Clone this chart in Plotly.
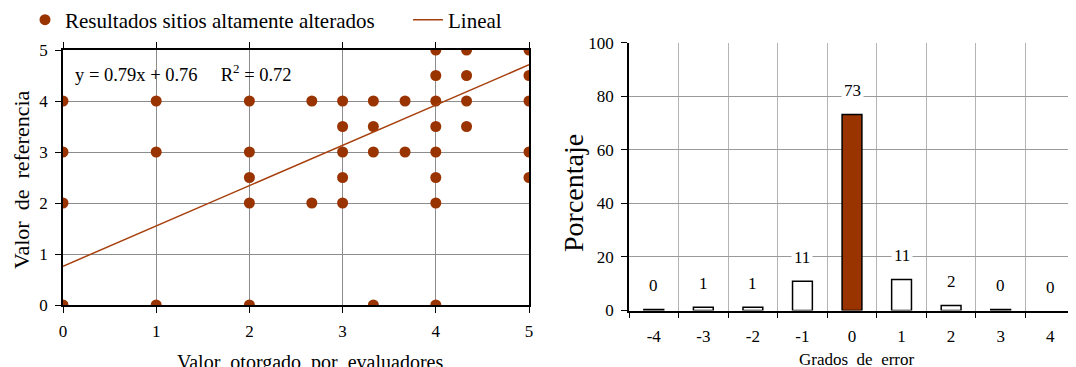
import plotly.graph_objects as go

# ---- Left scatter data ----
scatter_x = [0, 0, 0, 0,
             1, 1, 1,
             2, 2, 2, 2, 2,
             2.67, 2.67,
             3, 3, 3, 3, 3,
             3.33, 3.33, 3.33, 3.33,
             3.67, 3.67,
             4, 4, 4, 4, 4, 4, 4, 4,
             4.33, 4.33, 4.33, 4.33,
             5, 5, 5, 5, 5]
scatter_y = [4, 3, 2, 0,
             4, 3, 0,
             4, 3, 2.5, 2, 0,
             4, 2,
             4, 3.5, 3, 2.5, 2,
             4, 3.5, 3, 0,
             4, 3,
             5, 4.5, 4, 3.5, 3, 2.5, 2, 0,
             5, 4.5, 4, 3.5,
             5, 4.5, 4, 3, 2.5]
slope = 0.79
intercept = 0.76
r2 = 0.72
fit_x = [0, 5]

# ---- Right bar data ----
error_degrees = [-4, -3, -2, -1, 0, 1, 2, 3, 4]
percent_values = [0.4, 1.2, 1.2, 10.9, 73.2, 11.6, 1.9, 0.4, 0]
percent_labels = ["0", "1", "1", "11", "73", "11", "2", "0", "0"]

BROWN = "#993300"
FONT = "Liberation Serif"
FS = 17

fig = go.Figure()

fig.add_trace(go.Scatter(
    x=scatter_x, y=scatter_y, mode="markers",
    marker=dict(color=BROWN, size=11),
    name="Resultados sitios altamente alterados",
    xaxis="x", yaxis="y"))

fig.add_trace(go.Scatter(
    x=fit_x, y=[slope * v + intercept for v in fit_x], mode="lines",
    line=dict(color="#A8400E", width=1.5),
    name="Lineal", xaxis="x", yaxis="y"))

bar_colors = [BROWN if d == 0 else "white" for d in error_degrees]
bar_line_widths = [1.5 if v > 0 else 0 for v in percent_values]
fig.add_trace(go.Bar(
    x=error_degrees, y=percent_values, width=0.4,
    marker=dict(color=bar_colors, line=dict(color="black", width=bar_line_widths)),
    showlegend=False, xaxis="x2", yaxis="y2"))

# page has an 8px body margin; figure fills the rest of the window
OFF = 8
W, H = 1076 - OFF, 367 - OFF
def px(xp):
    return (xp - OFF) / W
def py(yp):
    return 1 - (yp - OFF) / H

fig.update_layout(
    width=W, height=H,
    margin=dict(l=0, r=0, t=0, b=0, autoexpand=False),
    paper_bgcolor="white", plot_bgcolor="white",
    font=dict(family=FONT, size=FS, color="black"),
    showlegend=True,
    legend=dict(orientation="h", x=px(25), y=py(20), yanchor="middle", xanchor="left",
                font=dict(family=FONT, size=21), bgcolor="rgba(0,0,0,0)", itemwidth=30,
                entrywidth=338, entrywidthmode="pixels"),
    xaxis=dict(domain=[px(63), px(529)], range=[0, 5], tickvals=[0, 1, 2, 3, 4, 5],
               showgrid=True, gridcolor="#8c8c8c", gridwidth=1,
               showline=True, linecolor="black", linewidth=1.5, mirror="ticks",
               ticks="outside", ticklen=6, tickcolor="black", zeroline=False,
               anchor="y", ticklabelstandoff=4),
    yaxis=dict(domain=[py(305), py(50)], range=[0, 5], tickvals=[0, 1, 2, 3, 4, 5],
               showgrid=True, gridcolor="#8c8c8c", gridwidth=1,
               showline=True, linecolor="black", linewidth=1.5, mirror=True,
               ticks="outside", ticklen=6, tickcolor="black", zeroline=False,
               anchor="x", ticklabelstandoff=4),
    xaxis2=dict(domain=[px(629), min(1.0, px(1075))], range=[-4.5, 4.5],
                tickvals=error_degrees, ticktext=[str(d) for d in error_degrees],
                ticks="", showgrid=False, zeroline=False,
                showline=True, linecolor="black", linewidth=1.5,
                minor=dict(tick0=-4.5, dtick=1, ticks="outside", ticklen=6,
                           tickcolor="black", showgrid=True, gridcolor="#b4b4b4"),
                anchor="y2", ticklabelstandoff=9),
    yaxis2=dict(domain=[py(310.5), py(42.7)], range=[0, 100], tickvals=[0, 20, 40, 60, 80, 100],
                showgrid=True, gridcolor="#9a9a9a", gridwidth=1,
                showline=True, linecolor="black", linewidth=1.5,
                ticks="outside", ticklen=6, tickcolor="black", zeroline=False,
                anchor="x2", ticklabelstandoff=4),
)

annotations = [
    dict(text="y = 0.79x + 0.76\u00a0\u00a0\u00a0\u00a0\u00a0R<sup>2</sup> = 0.72",
         xref="paper", yref="paper", x=px(73), y=py(73), xanchor="left", yanchor="middle",
         showarrow=False, font=dict(size=18.5)),
    dict(text="Valor\u00a0 de\u00a0 referencia", xref="paper", yref="paper",
         x=px(21), y=py(180), textangle=-90, showarrow=False, font=dict(size=22),
         xanchor="center", yanchor="middle"),
    dict(text="Valor\u00a0 otorgado\u00a0 por\u00a0 evaluadores", xref="paper", yref="paper",
         x=px(310), y=py(362), showarrow=False, font=dict(size=20),
         xanchor="center", yanchor="middle"),
    dict(text="Porcentaje", xref="paper", yref="paper",
         x=px(573), y=py(193), textangle=-90, showarrow=False, font=dict(size=28),
         xanchor="center", yanchor="middle"),
    dict(text="Grados\u00a0 de\u00a0 error", xref="paper", yref="paper",
         x=px(857), y=py(359), showarrow=False, font=dict(size=FS),
         xanchor="center", yanchor="middle"),
]
for d, v, lab in zip(error_degrees, percent_values, percent_labels):
    annotations.append(dict(text=lab, x=d, y=v, xref="x2", yref="y2",
                            showarrow=False, yanchor="bottom", yshift=11,
                            bgcolor="white", borderpad=2, font=dict(size=FS)))
fig.update_layout(annotations=annotations)

fig.write_html("out.html")
